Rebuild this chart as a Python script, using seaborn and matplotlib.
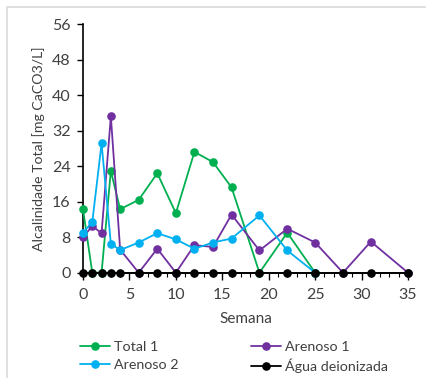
import matplotlib
matplotlib.use("Agg")
import matplotlib.pyplot as plt
import seaborn as sns
import pandas as pd
from matplotlib.ticker import MultipleLocator
from matplotlib.patches import Rectangle

sns.set_theme(style="white")
plt.rcParams['font.family'] = ['Lato', 'DejaVu Sans']

semana_total1 = [0, 1, 2, 3, 4, 6, 8, 10, 12, 14, 16, 19, 22, 25]
total1 = [14.3, 0, 0, 22.9, 14.3, 16.4, 22.4, 13.4, 27.2, 24.9, 19.2, 0, 9.0, 0]

semana_arenoso1 = [0, 1, 2, 3, 4, 6, 8, 10, 12, 14, 16, 19, 22, 25, 28, 31, 35]
arenoso1 = [8.0, 10.5, 8.9, 35.2, 5.2, 0, 5.4, 0, 6.2, 5.8, 13.1, 5.0, 9.9, 6.8, 0, 7.0, 0]

semana_arenoso2 = [0, 1, 2, 3, 4, 6, 8, 10, 12, 14, 16, 19, 22, 25]
arenoso2 = [9.0, 11.4, 29.1, 6.5, 5.1, 6.8, 8.9, 7.5, 5.4, 6.8, 7.7, 12.9, 5.0, 0]

semana_agua = [0, 1, 2, 3, 4, 6, 8, 10, 12, 14, 16, 19, 22, 25, 28, 31, 35]
agua = [0] * len(semana_agua)

series = [
    ("Total 1", semana_total1, total1, "#00B050"),
    ("Arenoso 1", semana_arenoso1, arenoso1, "#7030A0"),
    ("Arenoso 2", semana_arenoso2, arenoso2, "#00B0F0"),
    ("Água deionizada", semana_agua, agua, "#000000"),
]

fig = plt.figure(figsize=(4.27, 3.78), dpi=100)
ax = fig.add_axes([83/427, 1 - 272.7/378, (408 - 83)/427, (272.7 - 24)/378])

for name, xs, ys, col in series:
    df = pd.DataFrame({"Semana": xs, "v": ys})
    sns.lineplot(data=df, x="Semana", y="v", ax=ax, color=col, marker="o",
                 markersize=6.2, markeredgewidth=0, linewidth=1.3,
                 label=name, clip_on=False, zorder=3, legend=False)

ax.set_xlim(0, 35)
ax.set_ylim(0, 56)
ax.xaxis.set_major_locator(MultipleLocator(5))
ax.xaxis.set_minor_locator(MultipleLocator(1))
ax.yaxis.set_major_locator(MultipleLocator(8))

for s in ["top", "right"]:
    ax.spines[s].set_visible(False)
for s in ["left", "bottom"]:
    ax.spines[s].set_color("black")
    ax.spines[s].set_linewidth(1.2)

ax.tick_params(axis="x", which="major", direction="out", length=5, width=1.0,
               color="black", labelsize=11.5, labelcolor="#404040", pad=6, bottom=True)
ax.tick_params(axis="x", which="minor", direction="out", length=3, width=0.8,
               color="black", bottom=True)
ax.tick_params(axis="y", which="major", direction="out", length=4, width=1.0,
               color="black", labelsize=11.5, labelcolor="#404040", pad=5, left=True)

ax.set_xlabel("Semana", fontsize=11, color="#404040", labelpad=7)
ax.set_ylabel("Alcalinidade Total [mg CaCO3/L]", fontsize=10.2, color="#404040", labelpad=5)

handles, labels = ax.get_legend_handles_labels()
order = [0, 2, 1, 3]
fig.legend([handles[i] for i in order], [labels[i] for i in order],
           loc="upper left", bbox_to_anchor=(80/427, 1 - 341/378),
           ncol=2, frameon=False, fontsize=10.3, handlelength=2.1,
           columnspacing=5.05, handletextpad=0.3, labelspacing=0.4,
           borderaxespad=0, borderpad=0, labelcolor="#404040")

fig.patches.append(Rectangle((7/427, -0.1), 1.2, 1 - 6.5/378 + 0.1,
                             transform=fig.transFigure, fill=False,
                             edgecolor="#D9D9D9", linewidth=1.2))

fig.savefig("out.png", dpi=100)
